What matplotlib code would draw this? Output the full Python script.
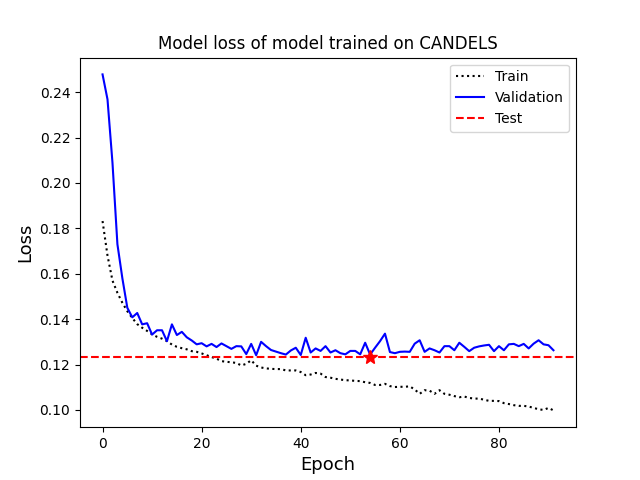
import matplotlib
matplotlib.use("Agg")
import matplotlib.pyplot as plt
import numpy as np

train_loss = [0.1832, 0.1680, 0.1570, 0.1516, 0.1472, 0.1435, 0.1405, 0.1378, 0.1362, 0.1348,
              0.1333, 0.1322, 0.1314, 0.1303, 0.1288, 0.1278, 0.1272, 0.1267, 0.1259, 0.1256,
              0.1249, 0.1241, 0.1233, 0.1226, 0.1215, 0.1212, 0.1210, 0.1207, 0.1196, 0.1203,
              0.1219, 0.1195, 0.1187, 0.1183, 0.1181, 0.1180, 0.1180, 0.1174, 0.1174, 0.1174,
              0.1167, 0.1153, 0.1156, 0.1163, 0.1160, 0.1145, 0.1142, 0.1137, 0.1134, 0.1131,
              0.1130, 0.1128, 0.1127, 0.1122, 0.1119, 0.1110, 0.1110, 0.1115, 0.1105, 0.1101,
              0.1102, 0.1102, 0.1104, 0.1090, 0.1071, 0.1087, 0.1085, 0.1071, 0.1087, 0.1071,
              0.1067, 0.1061, 0.1056, 0.1059, 0.1053, 0.1050, 0.1050, 0.1045, 0.1040, 0.1040,
              0.1039, 0.1030, 0.1026, 0.1021, 0.1018, 0.1018, 0.1015, 0.1009, 0.1003, 0.1000,
              0.1009, 0.0998]
val_loss = [0.2478, 0.2368, 0.2090, 0.1730, 0.1580, 0.1450, 0.1408, 0.1427, 0.1377, 0.1382,
            0.1332, 0.1351, 0.1351, 0.1303, 0.1377, 0.1330, 0.1344, 0.1320, 0.1306, 0.1289,
            0.1294, 0.1280, 0.1291, 0.1277, 0.1293, 0.1281, 0.1269, 0.1281, 0.1280, 0.1246,
            0.1291, 0.1241, 0.1300, 0.1281, 0.1264, 0.1257, 0.1250, 0.1244, 0.1262, 0.1274,
            0.1242, 0.1318, 0.1253, 0.1271, 0.1260, 0.1281, 0.1253, 0.1263, 0.1250, 0.1245,
            0.1260, 0.1260, 0.1245, 0.1296, 0.1244, 0.1274, 0.1303, 0.1336, 0.1255, 0.1250,
            0.1256, 0.1257, 0.1256, 0.1292, 0.1307, 0.1256, 0.1271, 0.1263, 0.1253, 0.1281,
            0.1281, 0.1263, 0.1296, 0.1278, 0.1259, 0.1274, 0.1280, 0.1284, 0.1287, 0.1259,
            0.1281, 0.1263, 0.1289, 0.1291, 0.1281, 0.1291, 0.1271, 0.1292, 0.1307, 0.1289,
            0.1285, 0.1263]
test_loss = 0.1233
best_epoch = 54

epochs = np.arange(len(train_loss))

fig, ax = plt.subplots(figsize=(6.4, 4.8), dpi=100)
ax.plot(epochs, train_loss, ':', color='black', linewidth=1.5, label='Train')
ax.plot(epochs, val_loss, '-', color='blue', linewidth=1.5, label='Validation')
ax.axhline(test_loss, linestyle='--', color='red', linewidth=1.5, label='Test')
ax.plot([best_epoch], [test_loss], marker='*', color='red', markersize=10, linestyle='none')
ax.set_title('Model loss of model trained on CANDELS')
ax.set_xlabel('Epoch', fontsize=13)
ax.set_ylabel('Loss', fontsize=13)
ax.legend(loc='upper right')
fig.savefig('out.png', dpi=100)
